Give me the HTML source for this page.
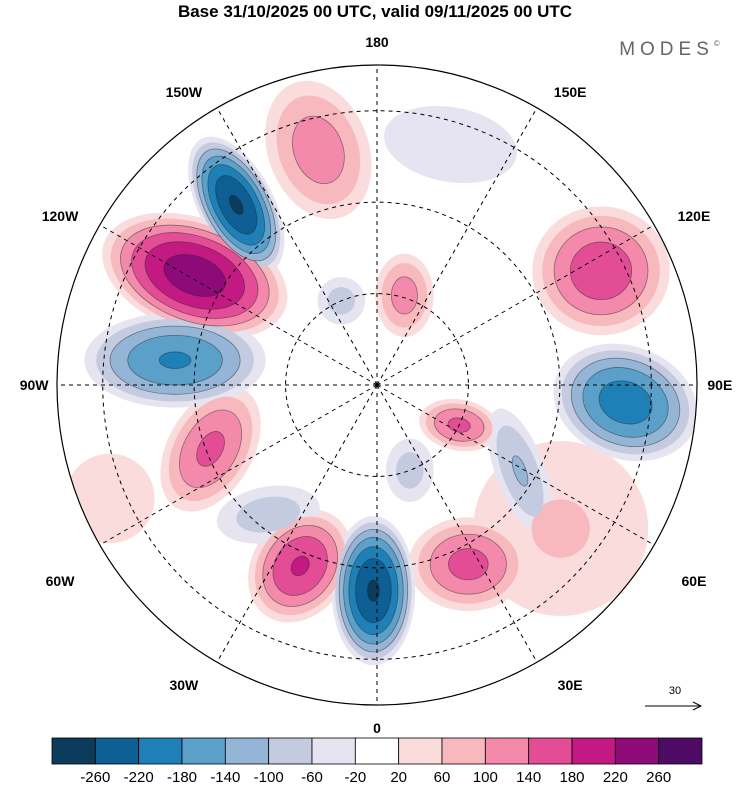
<!DOCTYPE html>
<html><head><meta charset="utf-8">
<style>
body{margin:0;background:#fff;font-family:"Liberation Sans",sans-serif;}
svg text{font-family:"Liberation Sans",sans-serif;}
</style></head>
<body>
<svg id="c" width="750" height="783" xmlns="http://www.w3.org/2000/svg">
<text x="375" y="17" text-anchor="middle" font-size="17" font-weight="bold">Base 31/10/2025 00 UTC, valid 09/11/2025 00 UTC</text>
<text x="672" y="55" text-anchor="middle" font-size="19" fill="#666" letter-spacing="5">MODES<tspan font-size="8" dy="-9">©</tspan></text>
<defs><clipPath id="disk"><circle cx="377" cy="385" r="320"/></clipPath></defs>
<g id="field" clip-path="url(#disk)"></g>
<g id="grid"></g>
<circle cx="377" cy="385" r="320" fill="none" stroke="#000" stroke-width="1.2"/>
<g id="lonlabels" font-size="14" font-weight="bold"></g>
<g>
<text x="675" y="694" text-anchor="middle" font-size="11">30</text>
<line x1="645" y1="706" x2="700" y2="706" stroke="#000" stroke-width="1"/>
<path d="M693,702 L701,706 L693,710" fill="none" stroke="#000"/>
</g>
<g id="cbar"></g>
</svg>
<script>
const levels=[-260,-220,-180,-140,-100,-60,-20,20,60,100,140,180,220,260];
const colors=["#0c3c5c","#0e5f94","#1f80b8","#5aa0c9","#94b5d6","#c4cbe0","#e6e4f0","#ffffff","#fbdcdc","#f7b8be","#f48aab","#e24d96","#c21a82","#8e0a78","#4f0a66"];
// anomaly centres: longitude (deg E), colatitude (deg), peak value, radii (deg), rotation
const blobLon=[-142,-121,-97,-166,117,86,64,59,-1,-23,27,-69,163,-40,52,163,-67,-157,21];
const blobColat=[50,46.5,44.5,53,55,54.5,20,36.5,45,43,44,39,20.5,37,51,55,63.5,20,20];
const blobPeak=[-265,245,-185,125,170,-205,150,-105,-265,185,155,150,120,-85,65,-60,60,-80,-80];
const blobRx=[8.5,22,21,12,16,17,9.5,6,9.5,11,14,10,7,13,23,18,12,6,6];
const blobRy=[17,13,11,17,15,13,6,16,17,14,11,16,10,7,23,10,12,6,8];
const blobRot=[-28,20,0,-20,0,20,10,-20,0,35,0,30,0,-10,0,10,0,0,0];
const CX=377,CY=385,R=320,COLAT_MAX=70;
const S=R/COLAT_MAX;
function px(lon,colat){const a=lon*Math.PI/180,r=colat*S;return [CX+r*Math.sin(a),CY+r*Math.cos(a)];}
const NS="http://www.w3.org/2000/svg";
function mk(t,a,p){const e=document.createElementNS(NS,t);for(const k in a)e.setAttribute(k,a[k]);p.appendChild(e);return e;}
const field=document.getElementById('field');
const bg=mk('circle',{cx:CX,cy:CY,r:R,fill:'#fff'},field);


function colorFor(v){let i=0;while(i<levels.length&&v>levels[i])i++;return colors[i];}
const pos=[20,60,100,140,180,220,260],neg=[-20,-60,-100,-140,-180,-220,-260];
function drawBand(th){
  for(let b=0;b<blobPeak.length;b++){
    const p=blobPeak[b];
    if(Math.sign(p)!==Math.sign(th)||Math.abs(p)<=Math.abs(th))continue;
    const s=Math.sqrt(1-Math.abs(th)/Math.abs(p));
    const [x,y]=px(blobLon[b],blobColat[b]);
    const col=colorFor(th>0?th+1:th-1);
    const e=mk('ellipse',{cx:x,cy:y,rx:blobRx[b]*S*s,ry:blobRy[b]*S*s,fill:col,transform:`rotate(${blobRot[b]} ${x} ${y})`},field);
    
    
    if(Math.abs(th)>=100){e.setAttribute('stroke','#222');e.setAttribute('stroke-width','0.8');e.setAttribute('stroke-opacity','0.5');}
  }
}
for(let k=0;k<pos.length;k++){drawBand(pos[k]);drawBand(neg[k]);}
const grid=document.getElementById('grid');
[20,40,60].forEach(c=>{const g=mk('circle',{cx:CX,cy:CY,r:c*S,fill:'none',stroke:'#000','stroke-width':1,'stroke-dasharray':'4,4'},grid);

});
for(let lon=0;lon<360;lon+=30){const [x,y]=px(lon,COLAT_MAX);const l=mk('line',{x1:CX,y1:CY,x2:x,y2:y,stroke:'#000','stroke-width':1,'stroke-dasharray':'4,4'},grid);

}
const labLon=[0,30,60,90,120,150,180,-150,-120,-90,-60,-30];
const labTxt=["0","30E","60E","90E","120E","150E","180","150W","120W","90W","60W","30W"];
const ll=document.getElementById('lonlabels');
labLon.forEach((lon,i)=>{const diag=lon%90!==0;let [x,y]=px(lon,COLAT_MAX+(diag?4:5));
if(diag)x+=Math.sign(x-CX)*24;
if(Math.abs(lon)===60)y+=27;
if(Math.abs(lon)===30)y+=7;
const t=mk('text',{x:x,y:y+5,'text-anchor':'middle'},ll);t.textContent=labTxt[i];

});
const cb=document.getElementById('cbar');const x0=52,w=650/15;
colors.forEach((c,i)=>{const r=mk('rect',{x:x0+i*w,y:738,width:w,height:26,fill:c,stroke:'#000','stroke-width':0.8},cb);

});
levels.forEach((v,i)=>{const t=mk('text',{x:x0+(i+1)*w,y:782,'text-anchor':'middle','font-size':15},cb);t.textContent=v;

});
</script>
</body></html>
